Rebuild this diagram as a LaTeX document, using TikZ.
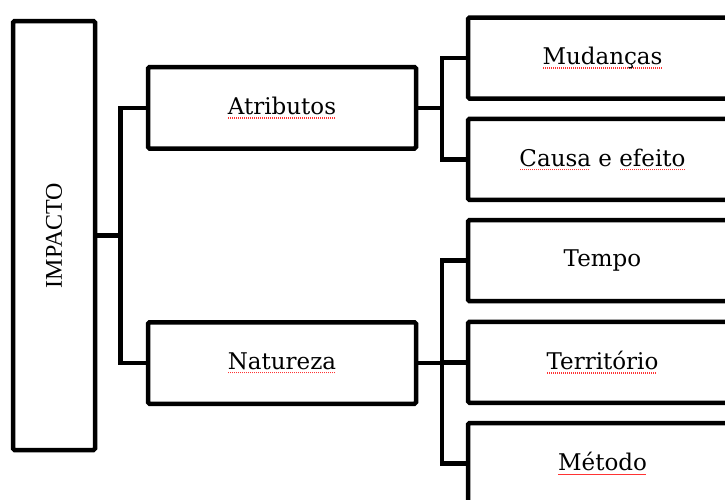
\documentclass[tikz,border=0pt]{standalone}
\usepackage{fontspec}
\setmainfont{DejaVu Serif}
\newfontfamily\impfont{Liberation Serif}
\newcommand\sqline[1]{\setbox0\hbox{#1}\rlap{\color{red!80}\raisebox{-4pt}{\hbox to \wd0{\leaders\hbox to 2pt{\hss\rule{1.2pt}{1.2pt}\hss}\hfill}}}\box0\relax}
\tikzset{
  box/.style={draw=black, line width=4.5pt, rounded corners=1.5pt, fill=white, inner sep=0pt,
    font=\fontsize{23}{26}\selectfont},
  midbox/.style={box, minimum width=268pt, minimum height=81.5pt},
  rbox/.style={box, minimum width=269pt, minimum height=81pt},
  conn/.style={line width=4.5pt, line cap=rect}
}
\begin{document}
\begin{tikzpicture}[x=1pt,y=-1pt]
\useasboundingbox (0,0) rectangle (725,499);
\clip (0,0) rectangle (725,499);
\fill[white] (0,0) rectangle (725,499);
% main box
\node[box, minimum width=82pt, minimum height=429pt] (imp) at (54,235.5)
  {\rotatebox{90}{\impfont\fontsize{24}{28}\selectfont IMPACTO}};
% middle column
\node[midbox] (atr) at (282,107.8) {\sqline{Atributos}};
\node[midbox] (nat) at (282,363) {\sqline{Natureza}};
% right column
\node[rbox] (mud) at (602.5,58) {\sqline{Mudanças}};
\node[rbox] (cau) at (602.5,159.4) {\sqline{Causa} e \sqline{efeito}};
\node[rbox] (tem) at (602.5,260.6) {Tempo};
\node[rbox] (ter) at (602.5,362.3) {\sqline{Território}};
\node[rbox] (met) at (602.5,463.5) {\sqline{Método}};
% junctions
\coordinate (j1) at (120.5,235.5);
\coordinate (j2) at (442,107.8);
\coordinate (j3) at (442,363);
% connectors
\draw[conn] (imp.east) -- (j1);
\draw[conn] (j1 |- atr.west) -- (j1 |- nat.west);
\draw[conn] (j1 |- atr.west) -- (atr.west);
\draw[conn] (j1 |- nat.west) -- (nat.west);
\draw[conn] (atr.east) -- (j2);
\draw[conn] (j2 |- mud.west) -- (j2 |- cau.west);
\draw[conn] (j2 |- mud.west) -- (mud.west);
\draw[conn] (j2 |- cau.west) -- (cau.west);
\draw[conn] (nat.east) -- (j3);
\draw[conn] (j3 |- tem.west) -- (j3 |- met.west);
\draw[conn] (j3 |- tem.west) -- (tem.west);
\draw[conn] (j3 |- ter.west) -- (ter.west);
\draw[conn] (j3 |- met.west) -- (met.west);
\end{tikzpicture}
\end{document}
